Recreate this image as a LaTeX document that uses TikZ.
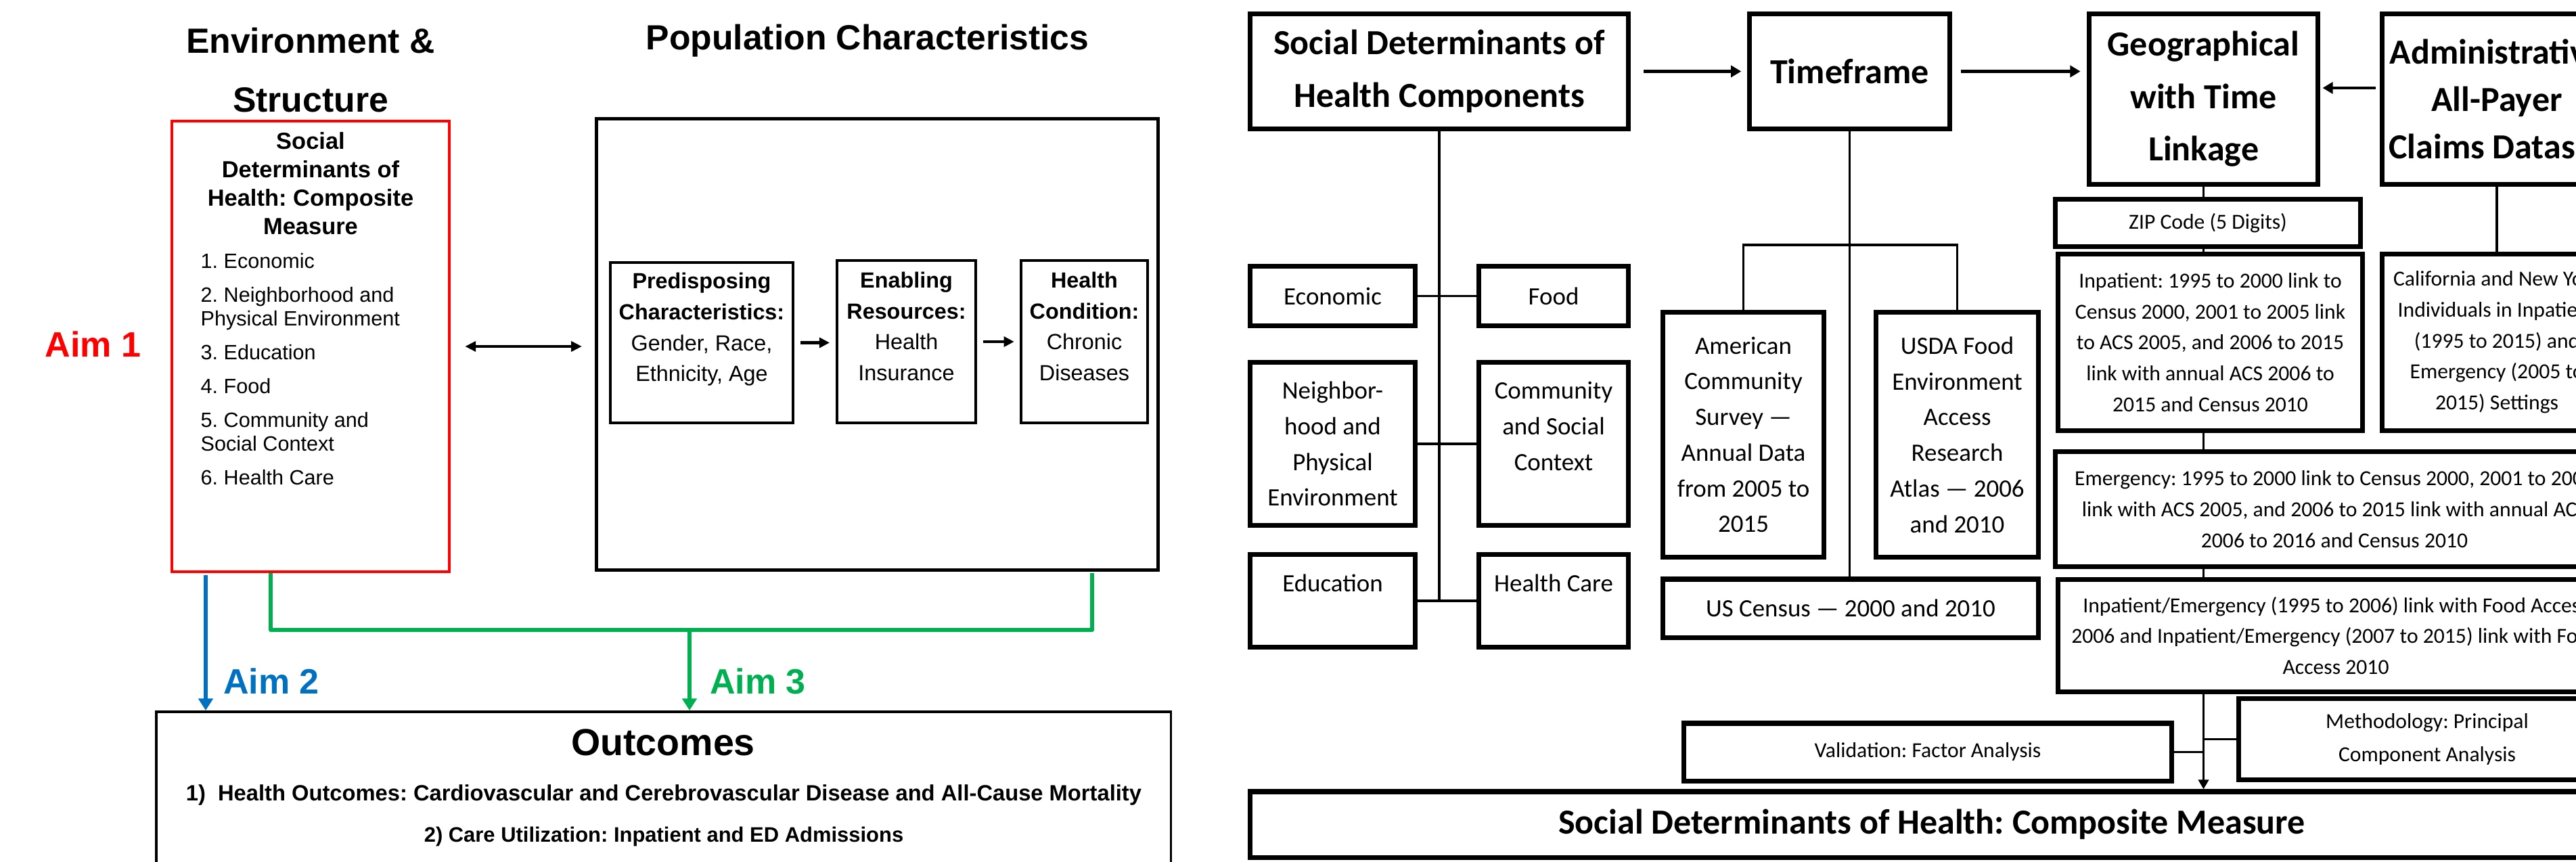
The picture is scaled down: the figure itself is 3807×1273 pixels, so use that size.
\documentclass[tikz,border=0pt]{standalone}
\usepackage{fontspec}
\setmainfont{Liberation Sans}
\newfontfamily\calibri{Carlito}
\usetikzlibrary{arrows.meta}
\frenchspacing
\definecolor{aimred}{RGB}{255,0,0}
\definecolor{aimblue}{RGB}{0,112,192}
\definecolor{aimgreen}{RGB}{0,176,80}
\tikzset{heading/.style={font=\bfseries\fontsize{14.7}{24.8}\selectfont, align=center, inner sep=0pt},
  aim/.style={font=\bfseries\fontsize{14.8}{17}\selectfont, inner sep=0pt},
  popbox/.style={draw, line width=1.2pt, align=center, inner sep=0pt, font=\fontsize{9.2}{13}\selectfont},
  popar/.style={line width=1.3pt, -{Triangle[length=4.3pt,width=4.2pt]}},
  aimar/.style={line width=1.7pt, -{Triangle[length=5pt,width=6pt]}},
  bigbox/.style={draw, line width=2pt, align=center, inner sep=0pt, font=\calibri\bfseries\fontsize{14.8}{22}\selectfont},
  smallbox/.style={draw, line width=2pt, align=center, inner sep=0pt, font=\calibri\fontsize{9}{13}\selectfont},
  midbox/.style={draw, line width=2pt, align=center, inner sep=0pt, font=\calibri\fontsize{10.5}{15}\selectfont},
  branch/.style={line width=1.1pt},
  flow/.style={line width=1.2pt, -{Triangle[length=4.3pt,width=4.8pt]}}}

\begin{document}
\begin{tikzpicture}[x=0.01cm, y=-0.01cm]
\useasboundingbox (0,0) rectangle (3807,1273);
\clip (0,0) rectangle (3807,1273);

% left: conceptual model
\node[heading] (envhead) at (459,103.5) {Environment \&\\Structure};
\node[heading] (pophead) at (1282,60) {Population Characteristics};
\node[draw=aimred, line width=1.2pt, minimum width=4.10cm, minimum height=6.66cm, inner sep=0pt] (ses) at (459,512) {};
\node[anchor=north, align=center, inner sep=0pt, font=\bfseries\fontsize{9.8}{11.9}\selectfont] (sestitle) at (459,195) {Social\\Determinants of\\Health: Composite\\Measure};
\node[anchor=north west, align=left, inner sep=0pt, font=\fontsize{8.7}{10}\selectfont] (seslist) at (296,374) {1. Economic\\[4.2pt]2. Neighborhood and\\Physical Environment\\[4.2pt]3. Education\\[4.2pt]4. Food\\[4.2pt]5. Community and\\Social Context\\[4.2pt]6. Health Care};
\node[draw, line width=1.4pt, minimum width=8.29cm, minimum height=6.66cm] (pop) at (1296.5,509) {};
\node[popbox, minimum width=2.70cm, minimum height=2.37cm] (predis) at (1037,506.5) {\textbf{Predisposing}\\\textbf{Characteristics:}\\Gender, Race,\\Ethnicity, Age\\\mbox{}};
\node[popbox, minimum width=2.05cm, minimum height=2.40cm] (enab) at (1339.5,505) {\textbf{Enabling}\\\textbf{Resources:}\\Health\\Insurance\\\mbox{}};
\node[popbox, minimum width=1.87cm, minimum height=2.40cm] (cond) at (1602.5,505) {\textbf{Health}\\\textbf{Condition:}\\Chronic\\Diseases\\\mbox{}};
\draw[popar, shorten <=2.5pt, shorten >=2.5pt] (predis.east) -- (predis.east -| enab.west);
\draw[popar, shorten <=2.5pt, shorten >=2.3pt] (enab.east) -- (enab.east -| cond.west);
\draw[line width=1.4pt, {Triangle[length=4.5pt,width=4.2pt]}-{Triangle[length=4.5pt,width=4.2pt]}, shorten <=6pt, shorten >=5.5pt] (ses.east) -- (ses.east -| pop.west);
\node[aim, text=aimred] (aim1) at (137.5,509) {Aim 1};

\node[draw, line width=1.1pt, minimum width=14.99cm, minimum height=2.40cm] (outc) at (980.5,1172) {};
\node[inner sep=0pt, font=\bfseries\fontsize{15.8}{19}\selectfont] (outtitle) at (980,1097) {Outcomes};
\node[align=center, inner sep=0pt, font=\bfseries\fontsize{8.8}{17.4}\selectfont] (outlist) at (981,1205.5) {{\fontsize{9.3}{17.4}\selectfont 1)~~Health Outcomes: Cardiovascular and Cerebrovascular Disease and All-Cause Mortality}\\2) Care Utilization: Inpatient and ED Admissions};

\coordinate (blue0) at (304,850);
\draw[aimar, aimblue] (blue0) -- (blue0 |- outc.north);
\node[aim, text=aimblue] (aim2) at (401,1007) {Aim 2};
\coordinate (greenl) at (400,847);
\coordinate (greenr) at (1614,847);
\coordinate (greenm) at (1019,931);
\draw[aimgreen, line width=1.8pt, line join=round] (greenl) |- (greenm) -| (greenr);
\draw[aimar, aimgreen] (greenm) -- (greenm |- outc.north);
\node[aim, text=aimgreen] (aim3) at (1120,1007) {Aim 3};

% right: measure construction
\node[bigbox, minimum width=5.58cm, minimum height=1.69cm] (sdoh) at (2127,105.5) {Social Determinants of\\Health Components};
\node[bigbox, minimum width=2.95cm, minimum height=1.69cm] (tframe) at (2733.5,105.5) {Timeframe};
\node[bigbox, minimum width=3.37cm, minimum height=2.51cm] (geo) at (3256.5,146.5) {Geographical\\with Time\\Linkage};
\node[bigbox, minimum width=3.38cm, minimum height=2.51cm, font=\calibri\bfseries\fontsize{14.8}{20}\selectfont] (claims) at (3690,146.5) {Administrative\\All-Payer\\Claims Dataset};
\node[smallbox, minimum width=4.50cm, minimum height=0.69cm] (zip) at (3263,329.5) {ZIP Code (5 Digits)};
\node[smallbox, minimum width=4.49cm, minimum height=2.60cm] (inpat) at (3266.5,506) {Inpatient: 1995 to 2000 link to\\Census 2000, 2001 to 2005 link\\to ACS 2005, and 2006 to 2015\\link with annual ACS 2006 to\\2015 and Census 2010};
\node[smallbox, minimum width=3.38cm, minimum height=2.60cm] (calif) at (3690,506) {California and New York\\Individuals in Inpatient\\(1995 to 2015) and\\Emergency (2005 to\\2015) Settings};
\node[smallbox, minimum width=8.24cm, minimum height=1.69cm] (emerg) at (3450,752.5) {Emergency: 1995 to 2000 link to Census 2000, 2001 to 2005\\link with ACS 2005, and 2006 to 2015 link with annual ACS\\2006 to 2016 and Census 2010};
\node[smallbox, minimum width=8.20cm, minimum height=1.65cm] (foodlink) at (3452,939.5) {Inpatient/Emergency (1995 to 2006) link with Food Access\\2006 and Inpatient/Emergency (2007 to 2015) link with Food\\Access 2010};
\node[smallbox, minimum width=5.56cm, minimum height=1.19cm, font=\calibri\fontsize{9}{14}\selectfont] (method) at (3587,1092.5) {Methodology: Principal\\Component Analysis};
\node[smallbox, minimum width=7.20cm, minimum height=0.85cm] (valid) at (2849,1111.5) {Validation: Factor Analysis};
\node[bigbox, minimum width=20.14cm, minimum height=0.97cm] (comp) at (2855,1218.5) {Social Determinants of Health: Composite Measure};

\node[midbox, minimum width=2.43cm, minimum height=0.87cm] (econ) at (1969.5,437.5) {Economic};
\node[midbox, minimum width=2.20cm, minimum height=0.87cm] (food) at (2296,437.5) {Food};
\node[midbox, minimum width=2.43cm, minimum height=2.40cm] (neigh) at (1969.5,656) {Neighbor-\\hood and\\Physical\\Environment};
\node[midbox, minimum width=2.20cm, minimum height=2.40cm] (commun) at (2296,656) {Community\\and Social\\Context\\\mbox{}};
\node[midbox, minimum width=2.43cm, minimum height=1.36cm] (educ) at (1969.5,888) {Education\\\mbox{}};
\node[midbox, minimum width=2.20cm, minimum height=1.36cm] (hcare) at (2296,888) {Health Care\\\mbox{}};
\node[midbox, minimum width=2.37cm, minimum height=3.61cm] (acs) at (2576.5,642.5) {American\\Community\\Survey —\\Annual Data\\from 2005 to\\2015};
\node[midbox, minimum width=2.39cm, minimum height=3.61cm] (usda) at (2892.5,642.5) {USDA Food\\Environment\\Access\\Research\\Atlas — 2006\\and 2010};
\node[midbox, minimum width=5.54cm, minimum height=0.86cm] (census) at (2735,899) {US Census — 2000 and 2010};

\draw[flow, shorten <=5.6pt, shorten >=2.6pt] (sdoh.east) -- (tframe.west);
\draw[flow, shorten <=3.7pt, shorten >=2.8pt] (tframe.east) -- (tframe.east -| geo.west);
\draw[flow, shorten <=1.7pt, shorten >=1.1pt] ([yshift=4.7pt]claims.west) -- ([yshift=4.7pt]geo.east);
\draw[branch] (sdoh.south) -- (sdoh.south |- educ.east);
\draw[branch] (econ) -- (food);
\draw[branch] (neigh) -- (commun);
\draw[branch] (educ) -- (hcare);
\draw[branch] (tframe.south) -- (tframe.south |- census.north);
\coordinate (tsplit) at (2733.5,362);
\draw[branch] (acs.north) |- (tsplit) -| (usda.north);
\draw[branch] (geo.south) -- (geo.south |- zip.north);
\draw[branch] (geo.south |- zip.south) -- (geo.south |- inpat.north);
\draw[branch] (geo.south |- inpat.south) -- (geo.south |- emerg.north);
\draw[branch] (geo.south |- emerg.south) -- (geo.south |- foodlink.north);
\draw[line width=1.1pt, -{Triangle[length=4pt,width=4.3pt]}] (geo.south |- foodlink.south) -- (geo.south |- comp.north);
\draw[branch] (claims.south) -- (claims.south |- calif.north);
\draw[branch] (valid.east) -- (valid.east -| geo.south);
\draw[branch] (method.west) -- (method.west -| geo.south);
\end{tikzpicture}
\end{document}
